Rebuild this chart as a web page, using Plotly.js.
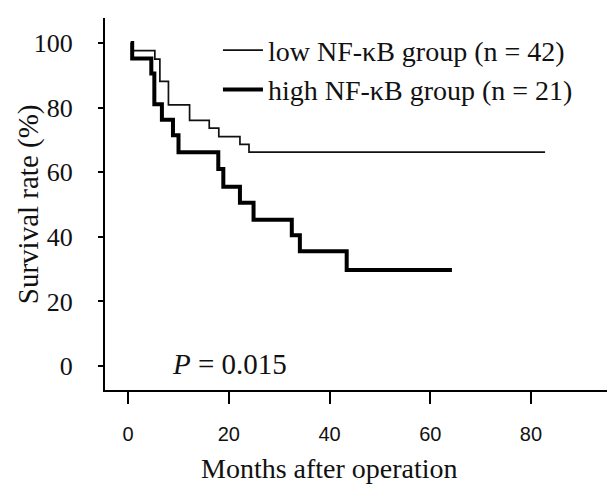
<!DOCTYPE html>
<html>
<head>
<meta charset="utf-8">
<script src="https://cdn.plot.ly/plotly-3.0.1.min.js"></script>
<style>html,body{margin:0;padding:0;background:#fff;}#chart{width:607px;height:484px;}</style>
</head>
<body>
<div id="chart"></div>
<script>
// Kaplan-Meier steps (months, survival %)
const lowMonths  = [0.5, 0.8, 5.3, 6.3, 8.0, 12.2, 16.1, 18.0, 22.2, 24.0, 82.8];
const lowSurv    = [100, 97.6, 95.0, 88.1, 80.8, 76.0, 73.6, 71.0, 68.6, 66.2, 66.2];
const highMonths = [0.5, 0.8, 4.6, 5.2, 6.7, 8.9, 10.0, 17.9, 18.9, 22.2, 24.9, 32.5, 34.1, 43.4, 64.3];
const highSurv   = [100, 95.2, 90.5, 81.0, 76.2, 71.4, 66.2, 61.0, 55.5, 50.5, 45.3, 40.5, 35.5, 29.7, 29.7];
const seriesNames = ["low NF-\u03baB group (n = 42)", "high NF-\u03baB group (n = 21)"];
const xTicks = [0, 20, 40, 60, 80];
const yTicks = [0, 20, 40, 60, 80, 100];
const xTitle = "Months after operation";
const yTitle = "Survival rate (%)";
const pText = "<i>P</i> = 0.015";

const serif = "Liberation Serif, Times New Roman, serif";
const sans = "Liberation Sans, Arial, sans-serif";

const traces = [
  {x: lowMonths, y: lowSurv, name: seriesNames[0], type: "scatter", mode: "lines",
   line: {shape: "hv", color: "#111", width: 1.7}},
  {x: highMonths, y: highSurv, name: seriesNames[1], type: "scatter", mode: "lines",
   line: {shape: "hv", color: "#000", width: 4}}
];

const layout = {
  width: 607, height: 484,
  margin: {l: 105, r: 0, t: 18, b: 94},
  paper_bgcolor: "#fff", plot_bgcolor: "#fff",
  showlegend: true,
  legend: {x: 0.225, xanchor: "left", y: 0.98, yanchor: "top",
           font: {family: serif, size: 28, color: "#111"},
           bgcolor: "rgba(0,0,0,0)", tracegroupgap: 0, itemwidth: 40},
  xaxis: {range: [-4.6, 95.1], tickvals: xTicks, ticktext: xTicks.map(String),
          showline: true, linecolor: "#000", linewidth: 2,
          ticks: "outside", ticklen: 12, tickwidth: 2, tickcolor: "#000",
          ticklabelstandoff: 13,
          tickfont: {family: sans, size: 20, color: "#111"},
          showgrid: false, zeroline: false},
  yaxis: {range: [-7.4, 107.7], tickvals: yTicks, ticktext: yTicks.map(String),
          showline: true, linecolor: "#000", linewidth: 2,
          ticks: "outside", ticklen: 5, tickwidth: 2, tickcolor: "#000",
          ticklabelstandoff: 20,
          tickfont: {family: serif, size: 26, color: "#111"},
          showgrid: false, zeroline: false},
  annotations: [
    {xref: "x", yref: "paper", x: 40, y: -0.21, xanchor: "center", yanchor: "middle",
     text: xTitle, showarrow: false, font: {family: serif, size: 28, color: "#111"}},
    {xref: "paper", yref: "paper", x: -0.153, y: 0.5, xanchor: "center", yanchor: "middle",
     textangle: -90, text: yTitle, showarrow: false, font: {family: serif, size: 29, color: "#111"}},
    {xref: "x", yref: "y", x: 8.3, y: 0.5, xanchor: "left", yanchor: "middle",
     text: pText, showarrow: false, font: {family: serif, size: 29, color: "#111"}}
  ]
};

Plotly.newPlot("chart", traces, layout, {displayModeBar: false, staticPlot: true});
</script>
</body>
</html>
